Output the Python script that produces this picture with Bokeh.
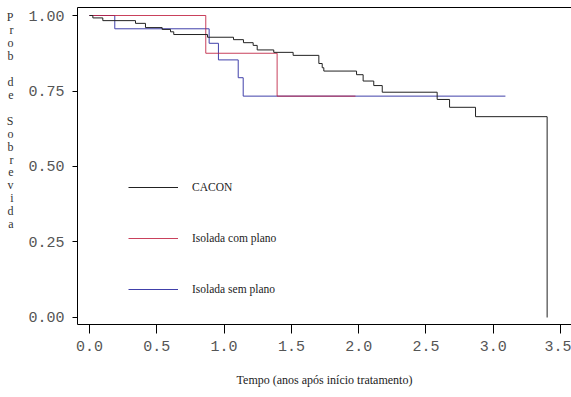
from bokeh.plotting import figure
from bokeh.models import (Range1d, FixedTicker, LinearAxis, Legend, LegendItem,
                          NumeralTickFormatter)
from bokeh.embed import file_html
from bokeh.resources import INLINE

# Kaplan-Meier survival estimates: time (years after start of treatment)
# at which each step begins, and the survival probability from that time on.
cacon_t = [0.0, 0.025, 0.099, 0.342, 0.416, 0.540, 0.602, 0.626, 0.877, 1.070,
           1.144, 1.216, 1.246, 1.369, 1.513, 1.704, 1.729, 1.741, 1.984, 2.033,
           2.112, 2.175, 2.583, 2.675, 2.868, 3.40]
cacon_s = [1.0, 0.992, 0.983, 0.974, 0.960, 0.954, 0.946, 0.937, 0.928, 0.920,
           0.910, 0.901, 0.886, 0.878, 0.868, 0.841, 0.827, 0.816, 0.804, 0.783,
           0.768, 0.746, 0.722, 0.696, 0.665, 0.0]

com_plano_t = [0.0, 0.864, 1.394, 1.976]
com_plano_s = [1.0, 0.875, 0.733, 0.733]

sem_plano_t = [0.0, 0.188, 0.889, 0.958, 1.105, 1.142, 3.09]
sem_plano_s = [1.0, 0.956, 0.908, 0.853, 0.794, 0.733, 0.733]

series_names = ["CACON", "Isolada com plano", "Isolada sem plano"]
x_ticks = [0.0, 0.5, 1.0, 1.5, 2.0, 2.5, 3.0, 3.5]
y_ticks = [0.0, 0.25, 0.5, 0.75, 1.0]
y_title = "Prob de Sobrevida"
x_title = "Tempo (anos após início tratamento)"

TICK_FONT = "Liberation Mono"
TEXT_FONT = "Liberation Serif"
W, H = 571, 397

p = figure(width=W, height=H, output_backend="svg", toolbar_location=None,
           x_range=Range1d(-0.089, 3.581), y_range=Range1d(-0.0232, 1.0265),
           min_border_left=77, min_border_right=0, min_border_top=7,
           min_border_bottom=73)
p.outline_line_color = None
p.xgrid.grid_line_color = None
p.ygrid.grid_line_color = None
p.background_fill_color = "white"
p.border_fill_color = "white"

# step curves
r_sem = p.step(sem_plano_t, sem_plano_s, mode="after", line_color="#4040aa",
               line_width=1)
r_com = p.step(com_plano_t, com_plano_s, mode="after", line_color="#c02040",
               line_width=1, line_alpha=0.85)
r_cacon = p.step(cacon_t, cacon_s, mode="after", line_color="#222222",
                 line_width=1)

# axes
for ax in (p.xaxis[0], p.yaxis[0]):
    ax.axis_line_color = "black"
    ax.major_tick_line_color = "black"
    ax.minor_tick_line_color = None
    ax.major_tick_in = 0
    ax.major_label_text_font = TICK_FONT
    ax.major_label_text_font_size = "15px"
    ax.major_label_text_color = "#555555"

p.xaxis.ticker = FixedTicker(ticks=x_ticks)
p.xaxis.formatter = NumeralTickFormatter(format="0.0")
p.xaxis.major_tick_out = 9
p.xaxis.major_label_standoff = 7
p.xaxis.axis_label = x_title
p.xaxis.axis_label_text_font = TEXT_FONT
p.xaxis.axis_label_text_font_size = "12px"
p.xaxis.axis_label_text_font_style = "normal"
p.xaxis.axis_label_text_color = "#222222"
p.xaxis.axis_label_standoff = 19

p.yaxis.ticker = FixedTicker(ticks=y_ticks)
p.yaxis.formatter = NumeralTickFormatter(format="0.00")
p.yaxis.major_tick_out = 5
p.yaxis.major_label_standoff = 8

# y-axis title written upright, one letter per line (word breaks become
# empty lines; trailing empty lines lift the block towards the top)
stacked = []
for word in y_title.split(" "):
    stacked.extend(list(word))
    stacked.append("")
stacked = stacked[:-1] + ["\u00a0"] * 7
p.yaxis.axis_label = "\n".join(stacked)
p.yaxis.axis_label_orientation = "horizontal"
p.yaxis.axis_label_text_font = TEXT_FONT
p.yaxis.axis_label_text_font_size = "12px"
p.yaxis.axis_label_text_font_style = "normal"
p.yaxis.axis_label_text_color = "#333333"
p.yaxis.axis_label_text_line_height = 0.926
p.yaxis.axis_label_standoff = 12

# top frame line
top = LinearAxis(ticker=FixedTicker(ticks=[]), axis_line_color="black",
                 major_tick_line_color=None, minor_tick_line_color=None,
                 major_label_text_font_size="0px", major_label_standoff=0)
p.add_layout(top, "above")

legend = Legend(items=[LegendItem(label=series_names[0], renderers=[r_cacon]),
                       LegendItem(label=series_names[1], renderers=[r_com]),
                       LegendItem(label=series_names[2], renderers=[r_sem])],
                location=(51, 25), orientation="vertical",
                background_fill_alpha=0, border_line_color=None,
                padding=0, margin=0, spacing=31, glyph_width=50, glyph_height=20,
                label_height=20, label_standoff=14,
                label_text_font=TEXT_FONT, label_text_font_size="11.5px",
                label_text_color="#222222")
p.add_layout(legend)

open("out.html", "w").write(file_html(p, INLINE))
